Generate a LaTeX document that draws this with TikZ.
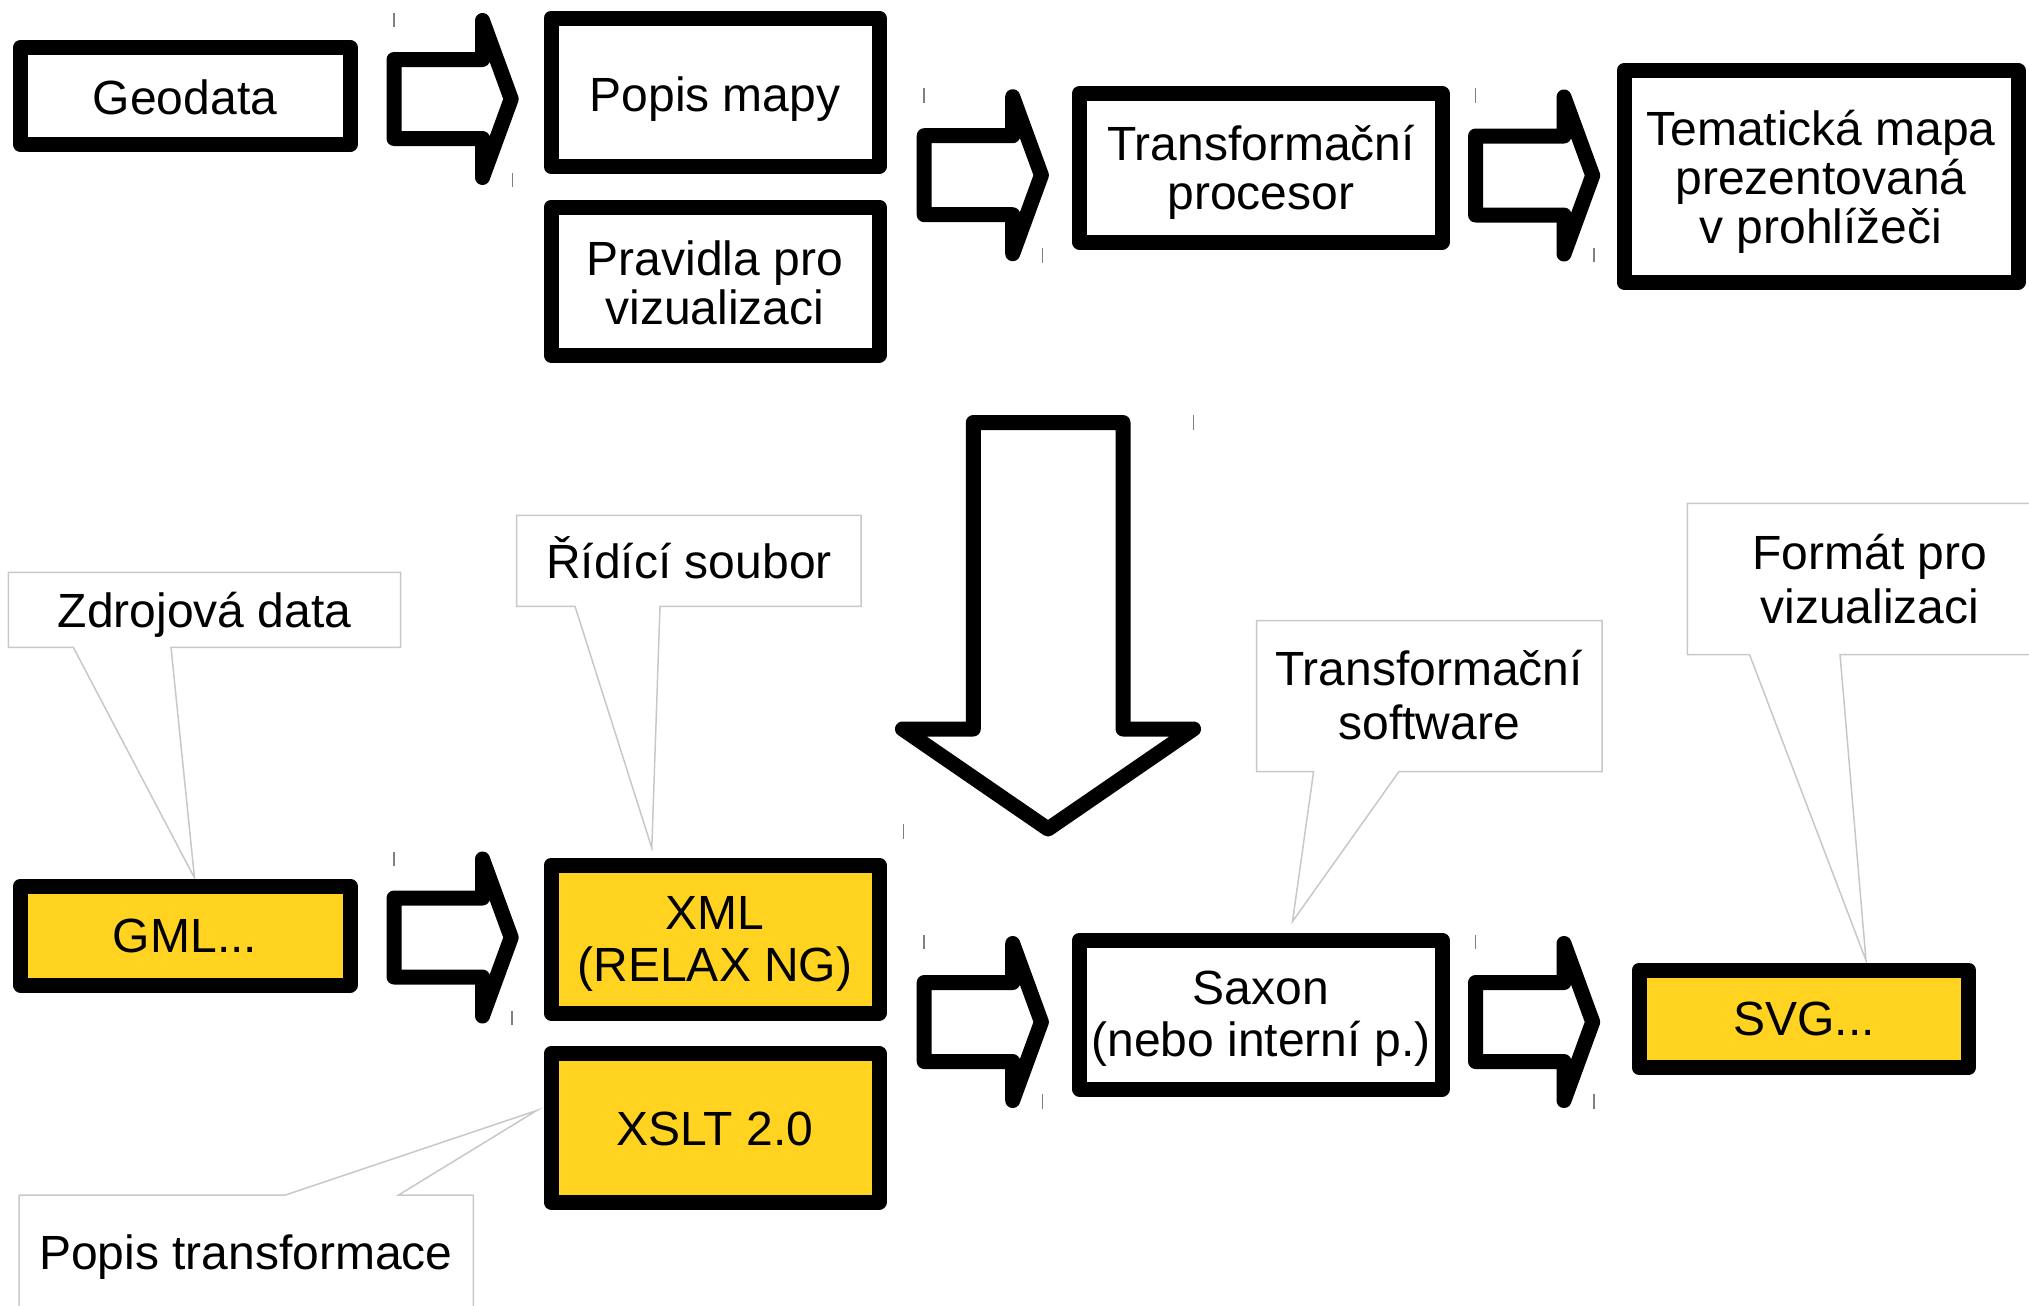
\documentclass[tikz,border=0pt]{standalone}
\usepackage{fontspec}
\setmainfont{Liberation Sans}
\usetikzlibrary{fit}
\definecolor{byellow}{RGB}{255,211,32}
\definecolor{cgray}{RGB}{200,200,200}
\definecolor{tgray}{RGB}{128,128,128}
\newcommand\dfont{\fontsize{24pt}{25pt}\selectfont}
\tikzset{
  box/.style={draw=black, line width=7.5pt, line join=round, inner sep=0pt, rectangle},
  ybox/.style={box, fill=byellow},
  arrln/.style={draw=black, line width=7.5pt, line join=round},
  callout/.style={draw=cgray, line width=0.75pt, fill=white},
  tickm/.style={draw=tgray, line width=0.75pt},
  txt/.style={font=\dfont, inner sep=0pt, anchor=base},
  rarr/.pic={\draw[arrln] (0,-39.5) -- (88.5,-39.5) -- (88.5,-78.5) -- (117.2,0) -- (88.5,78.5) -- (88.5,39.5) -- (0,39.5) -- cycle;}
}
\begin{document}
\begin{tikzpicture}[x=0.5pt, y=-0.5pt]
\useasboundingbox (0,0) rectangle (2029,1306);
\clip (0,0) rectangle (2029,1306);

% callouts
\draw[callout] (8.3,572.3) -- (400.5,572.3) -- (400.5,647.3) -- (171,647.3) -- (194.5,878) -- (73.3,647.3) -- (8.3,647.3) -- cycle;
\draw[callout] (516.6,515.3) -- (861,515.3) -- (861,606.3) -- (660,606.3) -- (651.8,848) -- (575,606.3) -- (516.6,606.3) -- cycle;
\draw[callout] (1256.5,620.5) -- (1602,620.5) -- (1602,771.5) -- (1399,771.5) -- (1292.5,921.5) -- (1313.6,771.5) -- (1256.5,771.5) -- cycle;
\draw[callout] (1687.4,503.4) -- (2060,503.4) -- (2060,654.5) -- (1840,654.5) -- (1866,960.5) -- (1749.5,654.5) -- (1687.4,654.5) -- cycle;
\draw[callout] (19,1195) -- (285.5,1195) -- (536.7,1110.5) -- (398.6,1195) -- (473.3,1195) -- (473.3,1340) -- (19,1340) -- cycle;

% boxes
\node[box, fit={(20.5,47.5)(350,144.5)}] (geo) {};
\node[box, fit={(551,18)(879,166.5)}] (popis) {};
\node[box, fit={(551,207)(879,355)}] (prav) {};
\node[box, fit={(1079.5,93.5)(1442,242)}] (tproc) {};
\node[box, fit={(1624,70.5)(2018,282)}] (tema) {};
\node[ybox, fit={(20.5,886)(350,985)}] (gml) {};
\node[ybox, fit={(551,865)(879,1013)}] (xml) {};
\node[ybox, fit={(551,1053.5)(879,1202)}] (xslt) {};
\node[box, fit={(1079.5,940)(1442,1089)}] (saxon) {};
\node[ybox, fit={(1639,970)(1968.5,1067.5)}] (svg) {};

% block arrows
\pic (a1) at (394,99) {rarr};
\pic (a2) at (924.2,175.2) {rarr};
\pic (a3) at (1475.5,175.5) {rarr};
\pic (a4) at (394,937.5) {rarr};
\pic (a5) at (924.2,1022) {rarr};
\pic (a6) at (1475.5,1022) {rarr};
\draw[arrln] (973.3,422.5) -- (1123,422.5) -- (1123,729) -- (1193.5,729) -- (1048,829) -- (902.5,729) -- (973.3,729) -- cycle;

% handle ticks
\draw[tickm] (394,13) -- (394,27) (512.7,172.5) -- (512.7,186.7);
\draw[tickm] (924,88.3) -- (924,102.7) (1042.7,247.7) -- (1042.7,262.7);
\draw[tickm] (1475.7,88) -- (1475.7,102.7) (1594,247.7) -- (1594,262);
\draw[tickm] (394,851.7) -- (394,866) (512,1011) -- (512,1025);
\draw[tickm] (924,935) -- (924,949.3) (1042.7,1094.3) -- (1042.7,1109);
\draw[tickm] (1475.5,935) -- (1475.5,949) (1594,1094) -- (1594,1109);
\draw[tickm] (1193.6,415) -- (1193.6,430) (903.3,823.5) -- (903.3,839.3);

% texts
\node[txt] (tgeo) at (185,114.5) {Geodata};
\node[txt] (tpopis) at (715,111) {Popis mapy};
\node[txt] (tprav1) at (715,275) {Pravidla pro};
\node[txt] (tprav2) at (715,324) {vizualizaci};
\node[txt] (ttp1) at (1261,160) {Transformační};
\node[txt] (ttp2) at (1261,209.5) {procesor};
\node[txt] (ttm1) at (1821,145) {Tematická mapa};
\node[txt] (ttm2) at (1821,194) {prezentovaná};
\node[txt] (ttm3) at (1821,243) {v prohlížeči};
\node[txt] (tgml) at (185,952.5) {GML...};
\node[txt] (txml1) at (715,929) {XML};
\node[txt] (txml2) at (715,981.5) {(RELAX NG)};
\node[txt] (txslt) at (715,1145) {XSLT 2.0};
\node[txt] (tsax1) at (1261,1004.5) {Saxon};
\node[txt] (tsax2) at (1261,1056.5) {(nebo interní p.)};
\node[txt] (tsvg) at (1804,1035) {SVG...};

\node[txt] (czdroj) at (204.5,627.5) {Zdrojová data};
\node[txt] (cridi) at (689,578) {Řídící soubor};
\node[txt] (ctsw1) at (1429,685.5) {Transformační};
\node[txt] (ctsw2) at (1429,739) {software};
\node[txt] (cform1) at (1870,569.5) {Formát pro};
\node[txt] (cform2) at (1870,623) {vizualizaci};
\node[txt] (cpopis) at (246,1269) {Popis transformace};
\end{tikzpicture}
\end{document}
